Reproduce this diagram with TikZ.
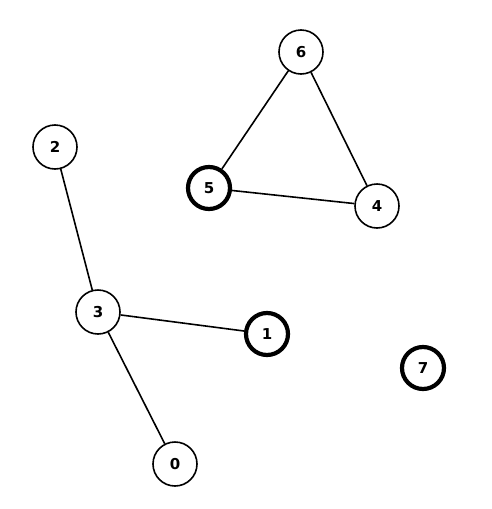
\documentclass[tikz,border=0pt]{standalone}
\usepackage{fontspec}
\setmainfont{DejaVu Sans}
\usetikzlibrary{positioning}

\tikzset{
  vertex/.style={draw=black, circle, line width=1.6pt, minimum size=44pt, inner sep=0pt, font=\bfseries\fontsize{15}{17}\selectfont},
  marked/.style={vertex, line width=4.2pt, minimum size=42pt},
  link/.style={line width=1.6pt}
}

\begin{document}
\begin{tikzpicture}[x=1pt,y=1pt,yscale=-1]
\useasboundingbox (0,0) rectangle (491,509);

% Vertices
\node [vertex] (n6) at (301,52) {6};
\node [marked] (n5) at (209,188) {5};
\node [vertex] (n4) at (377,206) {4};
\node [vertex] (n2) at (55,147) {2};
\node [vertex] (n3) at (98,312) {3};
\node [marked] (n1) at (267,334) {1};
\node [marked] (n7) at (423,368) {7};
\node [vertex] (n0) at (175,464) {0};

% Edges
\draw [link] (n6) -- (n5);
\draw [link] (n6) -- (n4);
\draw [link] (n5) -- (n4);
\draw [link] (n2) -- (n3);
\draw [link] (n3) -- (n1);
\draw [link] (n3) -- (n0);

\end{tikzpicture}
\end{document}
